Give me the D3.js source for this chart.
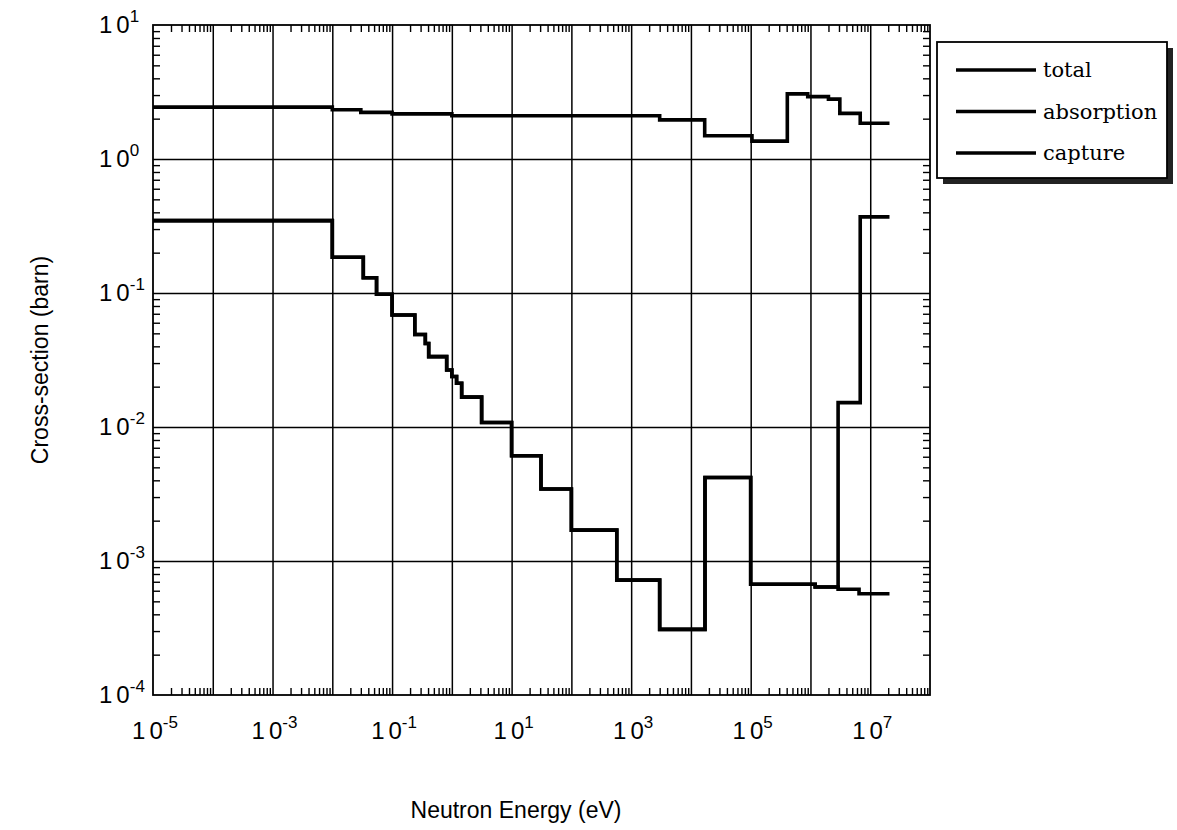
<!DOCTYPE html>
<html>
<head>
<meta charset="utf-8">
<script src="https://cdn.jsdelivr.net/npm/d3@7"></script>
<style>
body { margin: 0; background: #fff; }
</style>
</head>
<body>
<svg width="1177" height="830"></svg>
<script>
// energy bin edges (eV) and cross-section per bin (barn); last value repeated to close the step
var totalE = [1e-5, 1e-2, 0.03, 0.1, 1, 3e3, 1.7e4, 1.05e5, 4.1e5, 9e5, 2e6, 3.1e6, 6.8e6, 2.1e7];
var totalV = [2.44, 2.33, 2.23, 2.17, 2.1, 1.96, 1.49, 1.36, 3.06, 2.92, 2.8, 2.19, 1.85, 1.85];

var absorptionE = [1e-5, 1e-2, 0.033, 0.055, 0.1, 0.24, 0.36, 0.41, 0.82, 1.0, 1.2, 1.46, 3.15, 10, 31, 100, 575, 3e3, 1.72e4, 1e5, 1.2e6, 2.9e6, 6.8e6, 2.1e7];
var absorptionV = [0.347, 0.185, 0.13, 0.098, 0.0686, 0.049, 0.042, 0.0335, 0.0266, 0.0238, 0.0212, 0.0167, 0.0108, 6.1e-3, 3.45e-3, 1.7e-3, 7.2e-4, 3.09e-4, 4.2e-3, 6.7e-4, 6.4e-4, 0.0152, 0.37, 0.37];

var captureE = [1e-5, 1e-2, 0.033, 0.055, 0.1, 0.24, 0.36, 0.41, 0.82, 1.0, 1.2, 1.46, 3.15, 10, 31, 100, 575, 3e3, 1.72e4, 1e5, 1.2e6, 2.9e6, 6.5e6, 2.1e7];
var captureV = [0.347, 0.185, 0.13, 0.098, 0.0686, 0.049, 0.042, 0.0335, 0.0266, 0.0238, 0.0212, 0.0167, 0.0108, 6.1e-3, 3.45e-3, 1.7e-3, 7.2e-4, 3.09e-4, 4.2e-3, 6.7e-4, 6.4e-4, 6.15e-4, 5.7e-4, 5.7e-4];

var xLabelExp = [-5, -3, -1, 1, 3, 5, 7];
var yLabelExp = [1, 0, -1, -2, -3, -4];
var legendNames = ["total", "absorption", "capture"];

var svg = d3.select("svg");
var pLeft = 153, pRight = 930, pTop = 25, pBottom = 695;

var x = d3.scaleLog().domain([1e-5, 1e8]).range([pLeft, pRight]);
var y = d3.scaleLog().domain([1e-4, 1e1]).range([pBottom, pTop]);

function minors(lo, hi) {
    var out = [];
    for (var d = lo; d < hi; d++) {
        for (var m = 2; m <= 9; m++) out.push(+(m + "e" + d));
    }
    return out;
}
var majorsX = d3.range(-4, 8).map(function(d) { return +("1e" + d); });
var majorsY = d3.range(-3, 1).map(function(d) { return +("1e" + d); });

var g = svg.append("g");

// grid lines
g.append("g")
    .attr("transform", "translate(0," + pBottom + ")")
    .call(d3.axisBottom(x).tickValues(majorsX).tickSize(-(pBottom - pTop)).tickFormat(""))
    .call(function(a) { a.select(".domain").remove(); })
    .selectAll("line").attr("stroke", "#000").attr("stroke-width", 1.5);
g.append("g")
    .attr("transform", "translate(" + pLeft + ",0)")
    .call(d3.axisLeft(y).tickValues(majorsY).tickSize(-(pRight - pLeft)).tickFormat(""))
    .call(function(a) { a.select(".domain").remove(); })
    .selectAll("line").attr("stroke", "#000").attr("stroke-width", 1.5);

// minor ticks, inward on all four sides
var mx = minors(-5, 8), my = minors(-4, 1);
[[d3.axisBottom(x), "translate(0," + pBottom + ")", mx],
 [d3.axisTop(x), "translate(0," + pTop + ")", mx],
 [d3.axisLeft(y), "translate(" + pLeft + ",0)", my],
 [d3.axisRight(y), "translate(" + pRight + ",0)", my]].forEach(function(s) {
    g.append("g")
        .attr("transform", s[1])
        .call(s[0].tickValues(s[2]).tickSize(-7).tickFormat(""))
        .call(function(a) { a.select(".domain").remove(); })
        .selectAll("line").attr("stroke", "#000").attr("stroke-width", 1.4);
});

// frame
g.append("rect")
    .attr("x", pLeft).attr("y", pTop)
    .attr("width", pRight - pLeft).attr("height", pBottom - pTop)
    .attr("fill", "none").attr("stroke", "#000").attr("stroke-width", 1.8);

// tick labels
var xl = g.append("g").selectAll("text").data(xLabelExp).enter().append("text")
    .attr("x", function(d) { return x(+("1e" + d)) + 2; })
    .attr("y", 739)
    .attr("text-anchor", "middle")
    .style("font-family", "'Liberation Sans', Arial, sans-serif")
    .style("font-size", "24px");
xl.append("tspan").text("1").style("letter-spacing", "4px");
xl.append("tspan").text("0");
xl.append("tspan").text(function(d) { return d < 0 ? "-" + (-d) : d; })
    .attr("dy", -11).style("font-size", "17px");

var yl = g.append("g").selectAll("text").data(yLabelExp).enter().append("text")
    .attr("x", 99)
    .attr("y", function(d) { return y(+("1e" + d)) + 8; })
    .style("font-family", "'Liberation Sans', Arial, sans-serif")
    .style("font-size", "24px");
yl.append("tspan").text("1").style("letter-spacing", "4px");
yl.append("tspan").text("0");
yl.append("tspan").text(function(d) { return d < 0 ? "-" + (-d) : d; })
    .attr("dy", -11).style("font-size", "17px");

// axis titles
svg.append("text")
    .attr("x", 516).attr("y", 818)
    .attr("text-anchor", "middle")
    .style("font-family", "'Liberation Sans', Arial, sans-serif")
    .style("font-size", "23px")
    .text("Neutron Energy (eV)");
svg.append("text")
    .attr("transform", "translate(48,360) rotate(-90)")
    .attr("text-anchor", "middle")
    .style("font-family", "'Liberation Sans', Arial, sans-serif")
    .style("font-size", "23px")
    .text("Cross-section (barn)");

// step lines
var line = d3.line()
    .x(function(d) { return x(d[0]); })
    .y(function(d) { return y(d[1]); })
    .curve(d3.curveStepAfter);

[[absorptionE, absorptionV], [captureE, captureV], [totalE, totalV]].forEach(function(s) {
    g.append("path")
        .datum(d3.zip(s[0], s[1]))
        .attr("d", line)
        .attr("fill", "none")
        .attr("stroke", "#000")
        .attr("stroke-width", 3.6)
        .attr("stroke-linejoin", "miter");
});

// legend
var lg = svg.append("g");
lg.append("rect").attr("x", 943).attr("y", 48).attr("width", 230).attr("height", 136).attr("fill", "#222");
lg.append("rect").attr("x", 937).attr("y", 42).attr("width", 230).attr("height", 136)
    .attr("fill", "#fff").attr("stroke", "#000").attr("stroke-width", 1.8);
var li = lg.selectAll("g.item").data(legendNames).enter().append("g")
    .attr("class", "item")
    .attr("transform", function(d, i) { return "translate(0," + (70 + i * 41.5) + ")"; });
li.append("line").attr("x1", 956).attr("x2", 1036).attr("y1", 0).attr("y2", 0)
    .attr("stroke", "#000").attr("stroke-width", 3.4);
li.append("text").attr("x", 1043).attr("y", 7)
    .style("font-family", "'DejaVu Serif', serif")
    .style("font-size", "21px")
    .text(function(d) { return d; });
</script>
</body>
</html>
